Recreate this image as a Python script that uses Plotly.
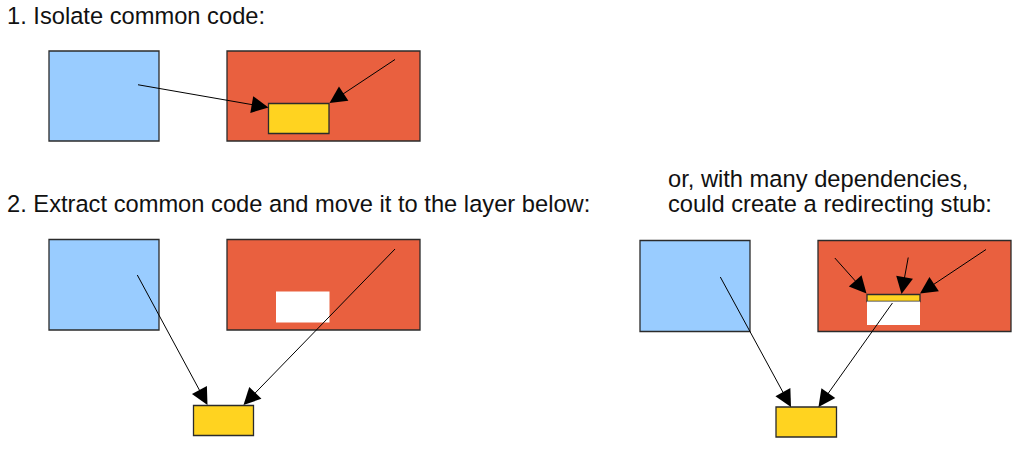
import plotly.graph_objects as go

# boxes: left, right, top, bottom (pixels of the 1013x456 page)
box_x0 = [49, 227, 268.5, 49, 227, 276, 193.5, 640, 818, 867, 867, 776]
box_x1 = [159, 420, 329, 159, 420, 329.5, 253.5, 750, 1011, 920, 920, 836.5]
box_y0 = [51, 51, 103.5, 239.5, 239.5, 291.5, 405.5, 240.5, 240.5, 294.5, 301.5, 407]
box_y1 = [141, 141, 133.5, 330, 330, 322.5, 435.5, 331.5, 331.5, 301.5, 325, 437]
box_kind = ["blue", "red", "yellow", "blue", "red", "hole", "yellow",
            "blue", "red", "yellow", "hole", "yellow"]

# arrows: start -> tip
arrow_x0 = [136.5, 396.5, 136.5, 396.5, 719.5, 893.5, 833.5, 908.5, 987.5]
arrow_y0 = [84.5, 58.5, 273.5, 247.5, 275.5, 301.5, 256.5, 256, 248.5]
arrow_x1 = [268.5, 329.5, 207.5, 243.5, 791, 818.5, 866.5, 901.5, 920]
arrow_y1 = [107.5, 103, 405, 405, 407, 407, 293.5, 294, 293.5]

# captions
captions = ["1. Isolate common code:",
            "2. Extract common code and move it to the layer below:",
            "or, with many dependencies,",
            "could create a redirecting stub:"]
caption_x = [7, 7, 668, 668]
caption_base = [24, 211.5, 186.5, 211.5]

fill = {"blue": "#99ccff", "red": "#e9603f", "yellow": "#ffd320", "hole": "#ffffff"}

fig = go.Figure()

for i in range(len(box_x0)):
    k = box_kind[i]
    fig.add_shape(type="rect", xref="x", yref="y",
                  x0=box_x0[i], x1=box_x1[i], y0=box_y0[i], y1=box_y1[i],
                  fillcolor=fill[k],
                  line=dict(color="#2b2b2b", width=0 if k == "hole" else 1.3),
                  layer="below")

for i in range(len(arrow_x0)):
    fig.add_annotation(x=arrow_x1[i], y=arrow_y1[i], ax=arrow_x0[i], ay=arrow_y0[i],
                       xref="x", yref="y", axref="x", ayref="y",
                       text="", showarrow=True, arrowhead=2, arrowsize=3.4,
                       arrowwidth=1, arrowcolor="#000000", standoff=0)

for i in range(len(captions)):
    fig.add_annotation(x=caption_x[i] - 2, y=caption_base[i] - 8, xref="x", yref="y",
                       text=captions[i], showarrow=False,
                       xanchor="left", yanchor="middle",
                       font=dict(family="Liberation Sans, Arial", size=23.7, color="#111111"))

fig.update_xaxes(range=[0, 1013], visible=False, fixedrange=True)
fig.update_yaxes(range=[456, 0], visible=False, fixedrange=True)
fig.update_layout(width=1013, height=456, margin=dict(l=0, r=0, t=0, b=0),
                  plot_bgcolor="white", paper_bgcolor="white", showlegend=False)

# page has a default 8px body margin; drop it so the figure sits at 0,0
fig.write_html("out.html", config={"displayModeBar": False},
               post_script="document.body.style.margin='0';")
